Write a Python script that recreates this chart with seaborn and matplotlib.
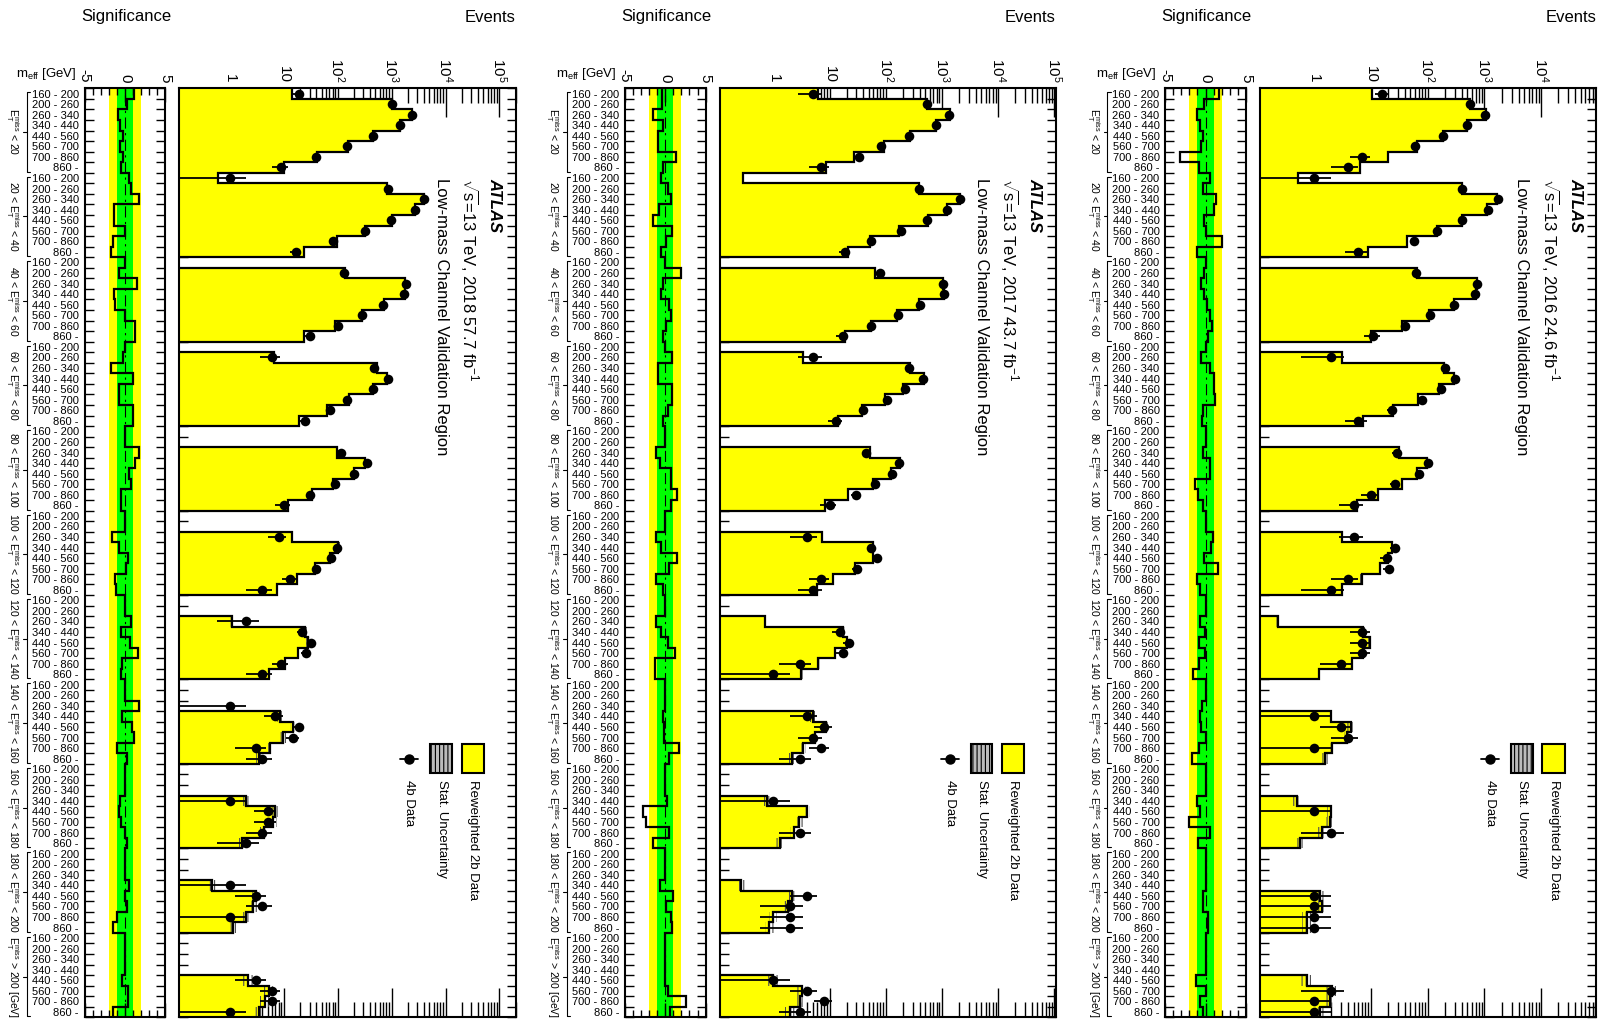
# ATLAS low-mass validation region, redrawn rotated (bins run top to bottom)
import numpy as np
import matplotlib
matplotlib.use("Agg")
import matplotlib.pyplot as plt
import seaborn as sns
from matplotlib.lines import Line2D
from matplotlib.patches import Rectangle
from matplotlib.ticker import LogLocator, NullFormatter, MultipleLocator
from matplotlib.transforms import Affine2D

# -----------------------------
# DATA
# -----------------------------
meff_labels = ["160 - 200", "200 - 260", "260 - 340", "340 - 440",
               "440 - 560", "560 - 700", "700 - 860", "860 -"]
met_labels = [r"$\mathrm{E}_{\mathrm{T}}^{\mathrm{miss}}$ < 20",
              r"20 < $\mathrm{E}_{\mathrm{T}}^{\mathrm{miss}}$ < 40",
              r"40 < $\mathrm{E}_{\mathrm{T}}^{\mathrm{miss}}$ < 60",
              r"60 < $\mathrm{E}_{\mathrm{T}}^{\mathrm{miss}}$ < 80",
              r"80 < $\mathrm{E}_{\mathrm{T}}^{\mathrm{miss}}$ < 100",
              r"100 < $\mathrm{E}_{\mathrm{T}}^{\mathrm{miss}}$ < 120",
              r"120 < $\mathrm{E}_{\mathrm{T}}^{\mathrm{miss}}$ < 140",
              r"140 < $\mathrm{E}_{\mathrm{T}}^{\mathrm{miss}}$ < 160",
              r"160 < $\mathrm{E}_{\mathrm{T}}^{\mathrm{miss}}$ < 180",
              r"180 < $\mathrm{E}_{\mathrm{T}}^{\mathrm{miss}}$ < 200",
              r"$\mathrm{E}_{\mathrm{T}}^{\mathrm{miss}}$ > 200 [GeV]"]

event_ticks = [1, 10, 100, 1e3, 1e4, 1e5]
event_tick_labels = ["1", "10", "$10^2$", "$10^3$", "$10^4$", "$10^5$"]

# relative stat. uncertainty of the 2b estimate, per MET block
stat_unc_rel = [0.01, 0.01, 0.01, 0.02, 0.03, 0.05, 0.08, 0.12, 0.15, 0.18, 0.2]

bkg_2016 = [10.4, 565, 1050, 500, 190, 65, 20, 6.5,
            0.53, 405, 1670, 1120, 400, 145, 43, 9.1,
            0, 65, 745, 700, 288, 104, 35, 10,
            0, 3.1, 192, 287, 157, 69, 25, 7.4,
            0, 0, 31, 97, 65, 35, 13.6, 5.7,
            0, 0, 3.1, 23.5, 20, 14.6, 6.9, 3.1,
            0, 0, 0.23, 7.4, 9.7, 7.4, 4.6, 1.24,
            0, 0, 0.08, 2.0, 4.4, 3.8, 2.05, 1.56,
            0, 0, 0, 0.5, 2.0, 1.9, 1.36, 0.57,
            0, 0, 0, 0, 1.27, 1.36, 0.74, 0.74,
            0, 0, 0, 0, 0.74, 2.05, 1.9, 1.3]
data_2016 = [16, 560, 1015, 485, 186, 60, 7, 4,
             1, 400, 1720, 1150, 395, 145, 57, 6,
             0, 63, 730, 695, 291, 110, 40, 11,
             0, 2, 199, 304, 170, 79, 24, 6,
             0, 0, 29, 103, 70, 27, 10, 5,
             0, 0, 5, 27, 19, 21, 4, 2,
             0, 0, 0, 7, 7, 7, 3, 0,
             0, 0, 0, 1, 3, 4, 1, 0,
             0, 0, 0, 0, 1, 0, 2, 0,
             0, 0, 0, 0, 1, 1, 1, 1,
             0, 0, 0, 0, 0, 2, 1, 1]
sig_2016 = [1.7, -0.2, -1.1, -0.7, -0.3, -0.6, -3.2, -0.8,
            0.6, -0.3, 1.3, 1.0, -0.2, 0.0, 2.0, -1.0,
            0, -0.2, -0.6, -0.2, 0.2, 0.6, 0.8, 0.3,
            0, -0.6, 0.5, 1.0, 1.0, 1.2, -0.3, -0.4,
            0, 0, -0.3, 0.6, 0.6, -1.3, -0.9, -0.3,
            0, 0, 0.9, 0.7, -0.2, 1.5, -1.1, -0.7,
            0, 0, -0.7, -0.1, -0.8, -0.1, -0.8, -1.6,
            0, 0, -0.4, -0.7, -0.6, 0.1, -0.8, -1.7,
            0, 0, 0, -1.0, -0.7, -2.0, 0.5, -0.9,
            0, 0, 0, 0, -0.3, -0.3, 0.3, 0.3,
            0, 0, 0, 0, -1.2, 0.0, -0.7, -0.3]

bkg_2017 = [6.3, 540, 1400, 780, 270, 92, 27, 8.5,
            0.29, 385, 2100, 1250, 570, 175, 53, 21,
            0, 64, 1040, 1080, 390, 160, 54, 18.5,
            0, 3.3, 270, 480, 205, 95, 38, 14,
            0, 0, 52.5, 180, 122, 58, 21.6, 8.3,
            0, 0, 7.2, 58, 58, 28, 11.4, 5.9,
            0, 0, 0.71, 17.6, 20, 12.5, 6.3, 3.1,
            0, 0, 0, 5.0, 8.5, 5.5, 3.4, 2.1,
            0, 0, 0, 0.76, 3.9, 2.9, 2.3, 1.3,
            0, 0, 0, 0.26, 2.1, 1.85, 1.0, 0.85,
            0, 0, 0, 0, 1.0, 3.2, 3.0, 2.0]
data_2017 = [5, 530, 1345, 770, 255, 83, 34, 7,
             0, 390, 2130, 1220, 535, 188, 54, 19,
             0, 80, 1030, 1065, 400, 168, 55, 17,
             0, 5, 255, 460, 218, 104, 40, 13,
             0, 0, 44, 171, 130, 64, 29, 10,
             0, 0, 4, 54, 70, 31, 7, 5,
             0, 0, 0, 15, 22, 17, 3, 1,
             0, 0, 0, 4, 8, 5, 7, 3,
             0, 0, 0, 1, 0, 0, 3, 0,
             0, 0, 0, 0, 4, 2, 2, 2,
             0, 0, 0, 0, 1, 4, 8, 3]
sig_2017 = [-0.4, -0.4, -1.5, -0.3, -0.9, -0.9, 1.3, -0.3,
            -0.5, 0.3, 0.7, -0.8, -1.5, 0.9, 0.1, -0.5,
            0, 1.9, -0.3, -0.5, 0.5, 0.7, 0.1, -0.3,
            0, 0.9, -0.9, -0.9, 0.9, 0.9, 0.3, -0.3,
            0, 0, -1.2, -0.7, 0.7, 0.7, 1.5, 0.7,
            0, 0, -1.1, -0.5, 1.5, 0.5, -1.2, -0.3,
            0, 0, -1.1, -0.5, 0.4, 1.2, -1.3, -1.3,
            0, 0, 0, -0.3, -0.1, -0.2, 1.7, 0.5,
            0, 0, 0, 0.2, -2.7, -2.4, 0.5, -1.5,
            0, 0, 0, -0.6, 1.0, 0.1, 0.7, 0.9,
            0, 0, 0, 0, 0.0, 0.4, 2.6, 0.6]

bkg_2018 = [14, 1000, 2400, 1450, 450, 158, 41, 10.2,
            0.6, 815, 3900, 2750, 1000, 325, 96, 24,
            0, 137, 1780, 1780, 710, 280, 89, 24,
            0, 6.6, 535, 815, 460, 160, 63, 19.5,
            0, 0, 96, 325, 196, 83, 33, 12.1,
            0, 0, 14, 103, 72, 38, 17.4, 7.4,
            0, 0, 1.07, 24.7, 28.6, 18.6, 10.5, 5.2,
            0, 0, 0, 8.5, 15, 9.8, 5.5, 3.4,
            0, 0, 0, 2.0, 6.9, 6.4, 4.2, 1.65,
            0, 0, 0, 0.46, 3.1, 2.7, 2.0, 1.15,
            0, 0, 0, 0, 2.2, 5.2, 4.5, 3.4]
data_2018 = [19, 1010, 2355, 1425, 446, 150, 40, 9,
             1, 840, 4010, 2680, 960, 325, 82, 17,
             0, 129, 1843, 1725, 678, 280, 100, 30,
             0, 6, 480, 845, 445, 151, 72, 25,
             0, 0, 114, 347, 201, 89, 31, 10,
             0, 0, 8, 96, 75, 39, 13, 4,
             0, 0, 2, 22, 32, 26, 9, 4,
             0, 0, 1, 7, 19, 15, 3, 4,
             0, 0, 0, 1, 5, 5, 4, 2,
             0, 0, 0, 1, 3, 4, 1, 0,
             0, 0, 0, 0, 3, 6, 6, 1]
sig_2018 = [1.1, 0.3, -0.9, -0.6, -0.2, -0.6, -0.2, -0.5,
            0.5, 0.8, 1.7, -1.3, -1.3, 0.0, -1.5, -1.7,
            0, -0.7, 1.5, -1.3, -1.2, 0.0, 1.2, 1.2,
            0, -0.2, -1.7, 1.0, -0.7, -0.7, 1.0, 1.0,
            0, 0, 1.8, 1.3, 0.5, 0.7, -0.5, -0.5,
            0, 0, -1.6, -0.7, 0.35, 0.15, -1.2, -1.1,
            0, 0, 0.8, -0.5, 0.6, 1.6, -0.3, -0.5,
            0, 0, 1.8, -0.3, 0.9, 1.1, -1.0, 0.3,
            0, 0, 0, -0.6, -0.7, -0.5, 0.0, 0.2,
            0, 0, 0, 0.5, 0.0, 0.3, -1.0, -1.5,
            0, 0, 0, 0, -0.3, 0.4, 0.4, -1.5]

# year, luminosity, 2b estimate, 4b data, significance, events axis range
panels = [("2018", "57.7", bkg_2018, data_2018, sig_2018, (0.115, 2.0e5)),
          ("2017", "43.7", bkg_2017, data_2017, sig_2017, (0.11, 1.07e5)),
          ("2016", "24.6", bkg_2016, data_2016, sig_2016, (0.112, 9.3e4))]

# -----------------------------
# STYLE
# -----------------------------
sns.set_style("ticks", {"axes.edgecolor": "black", "xtick.color": "black",
                        "ytick.color": "black", "text.color": "black",
                        "axes.labelcolor": "black"})
plt.rcParams['font.family'] = ['Liberation Sans', 'DejaVu Sans']
plt.rcParams['mathtext.fontset'] = 'custom'
plt.rcParams['mathtext.rm'] = 'Liberation Sans'
plt.rcParams['mathtext.it'] = 'Liberation Sans:italic'
plt.rcParams['mathtext.bf'] = 'Liberation Sans:bold'
plt.rcParams['mathtext.sf'] = 'Liberation Sans'
plt.rcParams['hatch.linewidth'] = 0.8

W, H = 1603, 1019
TOP, BOT = 88.3, 1017.3
NB = len(meff_labels) * len(met_labels)

fig = plt.figure(figsize=(W / 100, H / 100), dpi=100)
# pixel coordinates, origin top-left
pix = Affine2D().scale(1 / W, -1 / H).translate(0, 1) + fig.transFigure


def ypix(b):
    return TOP + b * (BOT - TOP) / NB


def rect(x0, x1):
    return [x0 / W, 1 - BOT / H, (x1 - x0) / W, (BOT - TOP) / H]


edges = np.arange(NB + 1)
centers = edges[:-1] + 0.5
bin_labels = meff_labels * len(met_labels)
unc = np.repeat(stat_unc_rel, len(meff_labels))

# -----------------------------
# PANELS
# -----------------------------
for k, (year, lumi, bkg, data, sig, xlim) in enumerate(panels):
    off = 540.3 * k

    # events pad
    ax = fig.add_axes(rect(179.3 + off, 515.7 + off))
    ax.set_xscale('log')
    b = np.array(bkg, float)
    bp = np.where(b > 0, b, 1e-3)
    ax.stairs(bp, edges, orientation='horizontal', baseline=1e-3, fill=True,
              color='#ffff00', lw=0, zorder=1)
    ax.stairs(bp * (1 + unc), edges, baseline=bp * (1 - unc), orientation='horizontal',
              fill=True, facecolor='none', edgecolor='#4d4d4d', hatch='||||', lw=0, zorder=2)
    ax.stairs(bp, edges, orientation='horizontal', baseline=None, color='black',
              lw=1.6, zorder=3)

    d = np.array(data, float)
    m = d > 0
    err = np.sqrt(d[m])
    ax.errorbar(d[m], centers[m], xerr=[np.minimum(err, d[m] - 1e-3), err], fmt='none',
                ecolor='black', elinewidth=1.3, capsize=0, zorder=4)
    sns.scatterplot(x=d[m], y=centers[m], ax=ax, color='black', s=48, linewidth=0,
                    zorder=5, legend=False)

    ax.set_xlim(*xlim)
    ax.set_ylim(NB, 0)
    keep = [(t, l) for t, l in zip(event_ticks, event_tick_labels) if xlim[0] <= t <= xlim[1]]
    ax.set_xticks([t for t, _ in keep], labels=[l for _, l in keep])
    ax.xaxis.set_minor_locator(LogLocator(base=10, subs=np.arange(2, 10), numticks=20))
    ax.xaxis.set_minor_formatter(NullFormatter())
    ax.tick_params(axis='x', which='both', direction='in', top=True, bottom=True,
                   labeltop=True, labelbottom=False, labelrotation=-90, labelsize=11, pad=4)
    ax.tick_params(axis='x', which='major', length=21, width=1)
    ax.tick_params(axis='x', which='minor', length=11, width=1)
    ax.set_yticks(edges)
    ax.set_yticklabels([])
    ax.tick_params(axis='y', direction='in', left=True, right=True, length=6.5, width=1)
    ax.set_xlabel('')
    ax.set_ylabel('')
    for s in ax.spines.values():
        s.set_linewidth(1.5)

    # significance pad
    axs = fig.add_axes(rect(84.5 + off, 165.3 + off))
    axs.axvspan(-2, 2, color='#ffff00', lw=0, zorder=0)
    axs.axvspan(-1, 1, color='#00ff00', lw=0, zorder=0)
    axs.axvline(0, color='black', lw=0.8, ls=(0, (10, 4, 2, 4)), zorder=1)
    axs.stairs(sig, edges, orientation='horizontal', baseline=None, color='black',
               lw=1.6, zorder=2)
    axs.set_xlim(-5, 5)
    axs.set_ylim(NB, 0)
    axs.set_xticks([-5, 0, 5], labels=['-5', '0', '5'])
    axs.xaxis.set_minor_locator(MultipleLocator(1))
    axs.tick_params(axis='x', which='both', direction='in', top=True, bottom=True,
                    labeltop=True, labelbottom=False, labelrotation=-90, labelsize=11, pad=4)
    axs.tick_params(axis='x', which='major', length=10, width=1)
    axs.tick_params(axis='x', which='minor', length=5, width=1)
    axs.set_yticks(edges)
    axs.set_yticks(centers, labels=bin_labels, minor=True)
    axs.tick_params(axis='y', which='major', direction='in', left=True, right=True,
                    labelleft=False, length=6.5, width=1)
    axs.tick_params(axis='y', which='minor', left=True, length=0, labelsize=8, pad=4)
    for s in axs.spines.values():
        s.set_linewidth(1.5)

    # MET block brackets and labels
    for j, lab in enumerate(met_labels):
        y0 = ypix(8 * j) + 4
        y1 = ypix(8 * j + 8) - 1
        xb = 26.5 + off
        fig.add_artist(Line2D([xb + 3.5, xb, xb, xb + 3.5], [y0, y0, y1, y1],
                              transform=pix, color='black', lw=0.8))
        ym = (y0 + y1) / 2
        fig.add_artist(Line2D([xb - 3.5, xb], [ym, ym], transform=pix, color='black', lw=0.8))
        fig.text(12.5 + off, ym, lab, transform=pix, rotation=-90, ha='center',
                 va='center', fontsize=7.5)

    # axis titles
    fig.text(171 + off, 17, 'Significance', transform=pix, ha='right', va='center', fontsize=12)
    fig.text(515.5 + off, 17, 'Events', transform=pix, ha='right', va='center', fontsize=12)
    fig.text(15.5 + off, 74, r'$\mathrm{m}_{\mathrm{eff}}$ [GeV]', transform=pix,
             ha='left', va='center', fontsize=9.5)

    # ATLAS labels
    fig.text(495 + off, 178, 'ATLAS', transform=pix, rotation=-90, ha='center', va='top',
             fontsize=12, fontweight='bold', fontstyle='italic')
    fig.text(470 + off, 178, r'$\sqrt{\mathrm{s}}$=13 TeV, ' + year + ' ' + lumi + r' fb$^{-1}$',
             transform=pix, rotation=-90, ha='center', va='top', fontsize=12)
    fig.text(441 + off, 178, 'Low-mass Channel Validation Region', transform=pix,
             rotation=-90, ha='center', va='top', fontsize=12)

    # legend
    fig.add_artist(Rectangle((461.7 + off, 744), 22.3, 29, transform=pix,
                             facecolor='#ffff00', edgecolor='black', lw=1.5))
    fig.add_artist(Rectangle((430.4 + off, 744), 21.6, 29, transform=pix,
                             facecolor='#bbbbbb', edgecolor='black', hatch='||||', lw=1.5))
    fig.add_artist(Line2D([400.4 + off, 418.4 + off], [759, 759], transform=pix,
                          color='black', lw=1.3))
    fig.add_artist(Line2D([409.4 + off], [759], transform=pix, marker='o', ms=6.5,
                          color='black', ls='none'))
    fig.text(473 + off, 780, 'Reweighted 2b Data', transform=pix, rotation=-90,
             ha='center', va='top', fontsize=9.5)
    fig.text(441.5 + off, 780, 'Stat. Uncertainty', transform=pix, rotation=-90,
             ha='center', va='top', fontsize=9.5)
    fig.text(409.4 + off, 780, '4b Data', transform=pix, rotation=-90,
             ha='center', va='top', fontsize=9.5)

fig.savefig("out.png", dpi=100)
